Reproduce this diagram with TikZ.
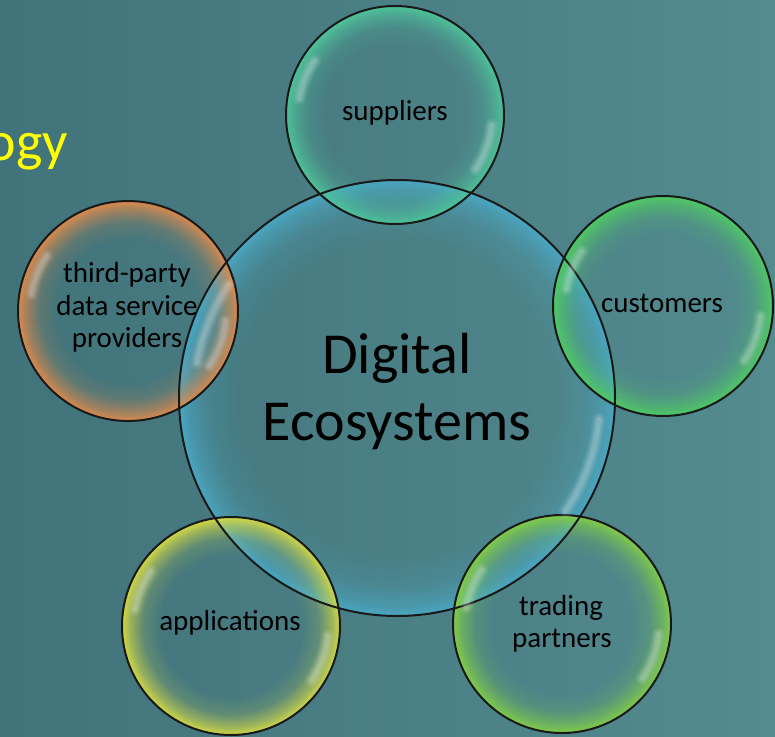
\documentclass[tikz,border=0pt]{standalone}
\usepackage{fontspec}
\setmainfont{Carlito}
\usetikzlibrary{fadings}

\definecolor{bgL}{HTML}{41737A}
\definecolor{bgR}{HTML}{538B8F}
\definecolor{cenC}{HTML}{4AA8C4}
\definecolor{supC}{HTML}{4EC49A}
\definecolor{cusC}{HTML}{4FCB63}
\definecolor{thiC}{HTML}{DE8A4C}
\definecolor{appC}{HTML}{D4DA44}
\definecolor{traC}{HTML}{82CE46}
\definecolor{ogyC}{HTML}{FFFF00}

\pgfdeclareradialshading{bubshade}{\pgfpointorigin}{color(0bp)=(black); color(16bp)=(black); color(20bp)=(black!82); color(23bp)=(black!40); color(24.5bp)=(black!10); color(25bp)=(black!4); color(50bp)=(black!4)}
\pgfdeclarefading{bubfade}{\pgfuseshading{bubshade}}
\pgfdeclareradialshading{censhade}{\pgfpointorigin}{color(0bp)=(black); color(18bp)=(black); color(21.5bp)=(black!78); color(23.8bp)=(black!38); color(24.7bp)=(black!10); color(25bp)=(black!4); color(50bp)=(black!4)}
\pgfdeclarefading{cenfade}{\pgfuseshading{censhade}}

\newcommand\glint[2]{%
  \foreach \w/\o in {13/0.07,9/0.10,5/0.14}{%
    \draw[white, line width=\w pt, opacity=\o, line cap=round]
      ([shift={(146:#2pt)}]#1) arc[start angle=146, end angle=170, radius=#2pt];
    \draw[white, line width=\w pt, opacity=\o, line cap=round]
      ([shift={(-6:#2pt)}]#1) arc[start angle=-6, end angle=-34, radius=#2pt];
  }%
}

\begin{document}
\begin{tikzpicture}[x=1pt,y=-1pt,
  rim/.style={draw=black!90, line width=2pt},
  bub/.style={circle, minimum size=#1, inner sep=0pt},
  lbl/.style={font=\fontsize{29}{33}\selectfont, anchor=base, inner sep=0pt, text=black},
  big/.style={font=\fontsize{58}{67}\selectfont, anchor=base, inner sep=0pt, text=black}]
\useasboundingbox (0,0) rectangle (775,736);
\clip (0,0) rectangle (775,736);
\shade[left color=bgL, right color=bgR] (0,0) rectangle (775,736);

\coordinate (cE) at (397,398);
\coordinate (cS) at (395,115);
\coordinate (cC) at (663,306);
\coordinate (cT) at (128,311);
\coordinate (cA) at (231,626);
\coordinate (cP) at (562,624);

% fills
\fill[cenC, path fading=cenfade] (cE) circle[radius=218pt];
\fill[supC, path fading=bubfade] (cS) circle[radius=109pt];
\fill[cusC, path fading=bubfade] (cC) circle[radius=110pt];
\fill[thiC, path fading=bubfade] (cT) circle[radius=110pt];
\fill[appC, path fading=bubfade] (cA) circle[radius=109pt];
\fill[traC, path fading=bubfade] (cP) circle[radius=109pt];

% outlines
\node[bub=436pt, rim] (eco) at (cE) {};
\node[bub=218pt, rim] (sup) at (cS) {};
\node[bub=220pt, rim] (cus) at (cC) {};
\node[bub=220pt, rim] (thi) at (cT) {};
\node[bub=218pt, rim] (app) at (cA) {};
\node[bub=218pt, rim] (tra) at (cP) {};

% highlights
\glint{cE}{203}
\glint{cS}{97}
\glint{cC}{98}
\glint{cT}{98}
\glint{cA}{97}
\glint{cP}{97}

% labels
\node[lbl] (tSup) at (395,120) {suppliers};
\node[lbl] (tCus) at (662,312) {customers};
\node[lbl] (tThi1) at (127,282) {third-party};
\node[lbl] (tThi2) at (127,315) {data service};
\node[lbl] (tThi3) at (127,347) {providers};
\node[lbl] (tApp) at (230,630) {applications};
\node[lbl] (tTra1) at (561,615) {trading};
\node[lbl] (tTra2) at (562,647) {partners};
\node[big] (tDig) at (397,373) {Digital};
\node[big] (tEco) at (397,440) {Ecosystems};
\node[font=\fontsize{56}{60}\selectfont, text=ogyC, anchor=base east, inner sep=0pt] (tOgy) at (68,160) {ogy};
\end{tikzpicture}
\end{document}
